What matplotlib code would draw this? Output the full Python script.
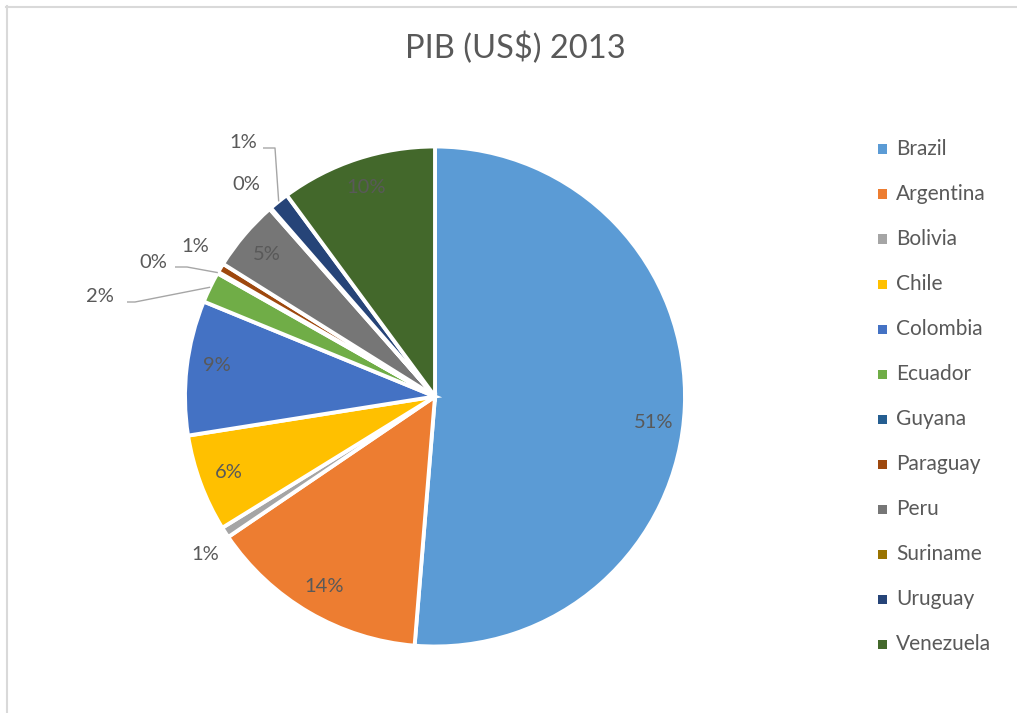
import numpy as np
import matplotlib
matplotlib.use("Agg")
import matplotlib.pyplot as plt
from matplotlib.patches import Rectangle
from matplotlib.lines import Line2D

# ---- data ----
countries = ["Brazil", "Argentina", "Bolivia", "Chile", "Colombia", "Ecuador",
             "Guyana", "Paraguay", "Peru", "Suriname", "Uruguay", "Venezuela"]
share = [51.3, 14.2, 0.7, 6.3, 8.7, 2.0, 0.1, 0.6, 4.6, 0.1, 1.3, 10.1]
colors = ["#5B9BD5", "#ED7D31", "#A5A5A5", "#FFC000", "#4472C4", "#70AD47",
          "#255E91", "#9E480E", "#767676", "#997300", "#264478", "#43682B"]
title = "PIB (US$) 2013"

# label placement (layout only)
inside = {"Brazil", "Argentina", "Chile", "Colombia", "Peru", "Venezuela"}
angle_nudge = {"Brazil": -4.5, "Colombia": -1.5}
outside_pos = {"Bolivia": (-0.92, -0.634), "Ecuador": (-1.34, 0.402),
               "Guyana": (-1.128, 0.534), "Paraguay": (-0.96, 0.598),
               "Suriname": (-0.756, 0.85), "Uruguay": (-0.768, 1.014)}
leaders = {"Ecuador": [(-1.232, 0.378), (-1.2, 0.378)],
           "Guyana": [(-1.04, 0.518), (-0.992, 0.518)],
           "Uruguay": [(-0.688, 0.994), (-0.64, 0.994)]}

W, H = 1017, 713
fig = plt.figure(figsize=(W / 100, H / 100), dpi=100)
fig.patch.set_facecolor("white")
FONT = "Lato"
TXT = "#595959"

# border (top and left only visible)
fig.add_artist(Line2D([6 / W, 1.0], [1 - 6.5 / H, 1 - 6.5 / H], transform=fig.transFigure,
                      color="#D9D9D9", linewidth=1.5))
fig.add_artist(Line2D([6.5 / W, 6.5 / W], [0.0, 1 - 6 / H], transform=fig.transFigure,
                      color="#D9D9D9", linewidth=1.5))

cx, cy, r = 435, 396.5, 250
ax = fig.add_axes([(cx - r) / W, (H - cy - r) / H, 2 * r / W, 2 * r / H])
wedges, _ = ax.pie(share, colors=colors, startangle=90, counterclock=False,
                   radius=1.0, wedgeprops=dict(edgecolor="white", linewidth=2.8))
ax.set_xlim(-1, 1)
ax.set_ylim(-1, 1)
ax.set_aspect("auto")
ax.axis("off")

LBL = 14.5
total = sum(share)
for name, w, v in zip(countries, wedges, share):
    pct = f"{v / total * 100:.0f}%"
    mid = np.deg2rad((w.theta1 + w.theta2) / 2 + angle_nudge.get(name, 0))
    if name in inside:
        rr = 0.88
        ax.text(rr * np.cos(mid), rr * np.sin(mid), pct, ha="center", va="center",
                fontsize=LBL, color=TXT, family=FONT, clip_on=False)
    else:
        x, y = outside_pos[name]
        ax.text(x, y, pct, ha="center", va="center", fontsize=LBL, color=TXT,
                family=FONT, clip_on=False)
        if name in leaders:
            emid = np.deg2rad((w.theta1 + w.theta2) / 2)
            pts = leaders[name] + [(np.cos(emid), np.sin(emid))]
            xs, ys = zip(*pts)
            ax.plot(xs, ys, color="#A6A6A6", linewidth=1.0, clip_on=False,
                    solid_capstyle="butt")

fig.text(515 / W, 1 - 48 / H, title, ha="center", va="center", fontsize=23.5,
         color=TXT, family=FONT)

# legend
ly0, dy = 149, 45
for i, (name, c) in enumerate(zip(countries, colors)):
    y = ly0 + i * dy
    fig.add_artist(Rectangle((878 / W, 1 - (y + 4.5) / H), 9 / W, 9 / H,
                             transform=fig.transFigure, facecolor=c, edgecolor="none"))
    fig.text(896 / W, 1 - y / H, name, ha="left", va="center", fontsize=15,
             color=TXT, family=FONT)

fig.savefig("out.png", dpi=100, facecolor="white")
